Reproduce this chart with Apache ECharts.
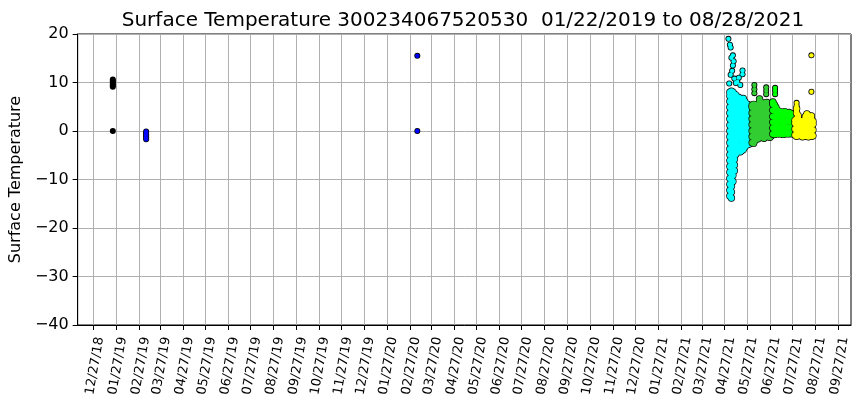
<!DOCTYPE html>
<html><head><meta charset="utf-8">
<script src="https://cdn.jsdelivr.net/npm/echarts@6/dist/echarts.min.js"></script>
<style>html,body{margin:0;padding:0;background:#fff}#c{width:860px;height:408px}</style>
</head><body><div id="c"></div>
<script>
const titleText = 'Surface Temperature 300234067520530  01/22/2019 to 08/28/2021';
const yAxisName = 'Surface Temperature';
const xTickLabels = ['12/27/18','01/27/19','02/27/19','03/27/19','04/27/19','05/27/19','06/27/19','07/27/19','08/27/19','09/27/19','10/27/19','11/27/19','12/27/19','01/27/20','02/27/20','03/27/20','04/27/20','05/27/20','06/27/20','07/27/20','08/27/20','09/27/20','10/27/20','11/27/20','12/27/20','01/27/21','02/27/21','03/27/21','04/27/21','05/27/21','06/27/21','07/27/21','08/27/21','09/27/21'];
const yMin = -40, yMax = 20, yStep = 10;
const xStartDate = '2019-01-22', xEndDate = '2021-08-28';

// isolated early readings
const blackDates = ['2019-01-22'];
const blackValues = [[10.6, 10.3, 10.0, 9.7, 9.4, 9.1, 0.0]];
const blueDates = ['2019-03-08', '2020-03-08'];
const blueValues = [[-0.1, -0.4, -0.7, -1.0, -1.3, -1.7], [15.5, 0.0]];

// 2021 dense record (columns of readings)
const cyanDates = ['2021-05-04','2021-05-06','2021-05-08','2021-05-10','2021-05-12','2021-05-14','2021-05-16','2021-05-18','2021-05-20','2021-05-22','2021-05-24','2021-05-26','2021-05-28','2021-05-30'];
const cyanValues = [
  [-13.4,-12.2,-11.0,-9.8,-8.5,-7.3,-6.1,-4.9,-3.7,-2.4,-1.2,0.0,1.2,2.5,3.7,4.9,6.1,7.2,8.0],
  [-13.8,-12.6,-11.4,-10.1,-8.9,-7.7,-6.5,-5.2,-4.0,-2.8,-1.6,-0.4,0.9,2.1,3.3,4.5,5.8,7.0,8.2],
  [-10.4,-9.2,-8.0,-6.7,-5.5,-4.3,-3.0,-1.8,-0.6,0.7,1.9,3.1,4.3,5.6,6.8,8.0],
  [-8.2,-7.0,-5.8,-4.5,-3.3,-2.1,-0.8,0.4,1.6,2.8,4.1,5.3,6.5,7.6],
  [-4.8,-3.6,-2.3,-1.1,0.1,1.3,2.6,3.8,5.0,6.2,7.4],
  [-4.3,-3.1,-1.8,-0.6,0.6,1.9,3.1,4.3,5.5,6.6],
  [-4.2,-3.0,-1.7,-0.5,0.7,1.9,3.2,4.4,5.6,6.9],
  [-4.3,-3.1,-1.8,-0.6,0.6,1.8,3.1,4.3,5.5,6.3],
  [-4.0,-2.8,-1.5,-0.3,0.9,2.1,3.4,4.6,5.8,6.5],
  [-3.8,-2.6,-1.3,-0.1,1.1,2.3,3.6,4.8,6.0,6.7],
  [-3.3,-2.1,-0.8,0.4,1.6,2.8,4.1,5.3,6.1],
  [-2.9,-1.7,-0.4,0.8,2.0,3.3,4.5,5.6],
  [-2.8,-1.6,-0.3,0.9,2.1,3.4,4.6,5.4],
  [-2.7,-1.5,-0.2,1.0,2.2,3.5,4.7,5.3]
];
const cyanDotDates = ['2021-05-02','2021-05-04','2021-05-05','2021-05-08','2021-05-06','2021-05-09','2021-05-08','2021-05-07','2021-05-05','2021-05-21','2021-05-21','2021-05-10','2021-05-14','2021-05-18','2021-05-03','2021-05-12','2021-05-16'];
const cyanDotValues = [[19.0],[17.8],[17.2],[15.6],[15.1],[14.4],[13.5],[12.4],[11.6],[12.5],[11.7],[10.8],[10.1],[9.5],[9.8],[9.9],[11.0]];

const greenDates = ['2021-06-03','2021-06-05','2021-06-07','2021-06-09','2021-06-11','2021-06-13','2021-06-15','2021-06-17','2021-06-19','2021-06-21','2021-06-23','2021-06-25','2021-06-27','2021-06-29'];
const greenValues = [
  [-2.4,-1.2,0.0,1.3,2.5,3.7,4.9,5.3],
  [-2.5,-1.3,0.0,1.2,2.4,3.6,4.9,5.5],
  [-1.9,-0.7,0.6,1.8,3.0,4.2,4.8],
  [-1.4,-0.2,1.0,2.3,3.5,4.6],
  [-1.6,-0.4,0.8,2.0,3.3,4.5,5.4],
  [-1.2,0.0,1.2,2.5,3.7,4.9,6.1,6.6],
  [-1.3,-0.1,1.1,2.4,3.6,4.8,5.9],
  [-1.1,0.1,1.3,2.6,3.8,5.0,5.6],
  [-1.5,-0.3,1.0,2.2,3.4,4.6,5.5],
  [-1.0,0.2,1.4,2.7,3.9,5.1,5.8],
  [-1.2,0.0,1.3,2.5,3.7,4.9,5.9],
  [-0.9,0.3,1.5,2.8,4.0,5.2],
  [-1.3,-0.1,1.1,2.4,3.6,4.9,5.3],
  [-1.0,0.2,1.5,2.7,3.9,4.8]
];
const greenDotDates = ['2021-06-06','2021-06-06','2021-06-06','2021-06-22','2021-06-22','2021-06-22'];
const greenDotValues = [[9.5],[8.6],[7.8],[9.0],[8.3],[7.6]];

const limeDates = ['2021-07-01','2021-07-03','2021-07-05','2021-07-07','2021-07-09','2021-07-11','2021-07-13','2021-07-15','2021-07-17','2021-07-19','2021-07-21','2021-07-23','2021-07-25','2021-07-27','2021-07-29'];
const limeValues = [
  [-0.6,0.6,1.8,3.0,4.3,5.5,6.0],
  [-0.7,0.5,1.7,3.0,4.2,5.4],
  [-0.5,0.8,2.0,3.2,4.4,4.9],
  [-0.6,0.6,1.8,3.1,4.2],
  [-0.4,0.8,2.0,3.3,4.1],
  [-0.6,0.6,1.9,3.1,3.7],
  [-0.5,0.7,1.9,3.2,3.9],
  [-0.7,0.5,1.8,3.0,3.5],
  [-0.5,0.7,2.0,3.2,4.0],
  [-0.4,0.8,2.0,3.2,3.6],
  [-0.6,0.6,1.9,3.1,3.4],
  [-0.5,0.7,2.0,3.2,3.8],
  [-0.4,0.8,2.1,3.1],
  [-0.6,0.6,1.9,3.0,3.5],
  [-0.5,0.7,1.9,2.9]
];
const limeDotDates = ['2021-07-04','2021-07-04','2021-07-04'];
const limeDotValues = [[8.9],[8.3],[7.6]];

const yellowDates = ['2021-07-31','2021-08-02','2021-08-04','2021-08-06','2021-08-08','2021-08-10','2021-08-12','2021-08-14','2021-08-16','2021-08-18','2021-08-20','2021-08-22','2021-08-24'];
const yellowValues = [
  [-0.8,0.4,1.6,2.2],
  [-1.1,0.1,1.3,2.5,3.7,4.6],
  [-0.9,0.3,1.5,2.7,3.2],
  [-0.7,0.5,1.7,2.1],
  [-1.0,0.2,1.4,1.9],
  [-1.2,0.0,1.2,2.0],
  [-0.9,0.3,1.5,2.2],
  [-1.1,0.1,1.3,2.5,3.0],
  [-1.0,0.2,1.4,2.6,3.5],
  [-1.2,0.0,1.2,2.4,2.9],
  [-0.9,0.3,1.5,2.3],
  [-1.1,0.1,1.3,2.5,3.1],
  [-1.0,0.2,1.4,2.0]
];
const yellowDotDates = ['2021-08-22','2021-08-22','2021-08-02','2021-08-02'];
const yellowDotValues = [[15.6],[8.1],[5.8],[5.2]];

// ---------- build ----------
function parseISO(s){ const p = s.split('-').map(Number); return Date.UTC(p[0], p[1]-1, p[2]); }
function parseTick(s){ const p = s.split('/').map(Number); return Date.UTC(2000+p[2], p[0]-1, p[1]); }
const tickVals = xTickLabels.map(parseTick);
const tickMap = {}; tickVals.forEach((v,i)=>{ tickMap[v] = xTickLabels[i]; });
const t0 = parseISO(xStartDate), t1 = parseISO(xEndDate);
const pad = (t1 - t0) * 0.05;
const xMin = t0 - pad, xMax = t1 + pad;

function pts(dates, values){
  const out = [];
  dates.forEach((d,i)=>{ const t = parseISO(d); values[i].forEach(v=>out.push([t, v])); });
  return out;
}
const groups = [
  {color:'#000000', band:[[],[]], dots:[blackDates, blackValues]},
  {color:'#0000ff', band:[[],[]], dots:[blueDates, blueValues]},
  {color:'#00ffff', band:[cyanDates, cyanValues], dots:[cyanDotDates, cyanDotValues]},
  {color:'#32cd32', band:[greenDates, greenValues], dots:[greenDotDates, greenDotValues]},
  {color:'#00ff00', band:[limeDates, limeValues], dots:[limeDotDates, limeDotValues]},
  {color:'#ffff00', band:[yellowDates, yellowValues], dots:[yellowDotDates, yellowDotValues]}
];
const series = [];
groups.forEach(g=>{
  const band = pts(g.band[0], g.band[1]);
  const dots = pts(g.dots[0], g.dots[1]);
  const base = {type:'scatter', silent:true, animation:false, symbol:'circle'};
  series.push(Object.assign({}, base, {data:band, symbolSize:7.4, itemStyle:{color:'#000', opacity:1}}));
  series.push(Object.assign({}, base, {data:dots, symbolSize:6, itemStyle:{color:'#000', opacity:1}}));
  series.push(Object.assign({}, base, {data:band, symbolSize:6, itemStyle:{color:g.color, opacity:1}}));
  series.push(Object.assign({}, base, {data:dots, symbolSize:4.4, itemStyle:{color:g.color, opacity:1}}));
});

const FONT = 'DejaVu Sans';
const chart = echarts.init(document.getElementById('c'), null, {renderer:'canvas'});
chart.setOption({
  animation:false,
  backgroundColor:'#fff',
  title:{text:titleText, left:458, top:6, textAlign:'center',
    textStyle:{fontFamily:FONT, fontSize:20, fontWeight:'normal', color:'#000'}},
  grid:{left:76, right:9, top:34, bottom:83, show:true, borderColor:'#000', borderWidth:1, backgroundColor:'transparent'},
  xAxis:{type:'value', min:xMin, max:xMax,
    axisLine:{show:true, onZero:false, lineStyle:{color:'#000', width:1}},
    axisTick:{show:true, inside:false, length:5, customValues:tickVals, lineStyle:{color:'#000'}},
    axisLabel:{show:true, customValues:tickVals, rotate:80, margin:11, verticalAlign:'top',
      fontFamily:FONT, fontSize:13, color:'#000', formatter:v=>tickMap[v] || ''},
    splitLine:{show:true, lineStyle:{color:'#b0b0b0', width:1}}
  },
  yAxis:{type:'value', min:yMin, max:yMax, interval:yStep,
    name:yAxisName, nameLocation:'middle', nameGap:48, nameRotate:90,
    nameTextStyle:{fontFamily:FONT, fontSize:16, color:'#000'},
    axisLine:{show:true, onZero:false, lineStyle:{color:'#000', width:1}},
    axisTick:{show:true, inside:false, length:5, lineStyle:{color:'#000'}},
    axisLabel:{fontFamily:FONT, fontSize:16, color:'#000', margin:9,
      formatter:v=> v<0 ? '\u2212'+Math.abs(v) : String(v)},
    splitLine:{show:true, lineStyle:{color:'#b0b0b0', width:1}}
  },
  series:series
});
</script></body></html>
